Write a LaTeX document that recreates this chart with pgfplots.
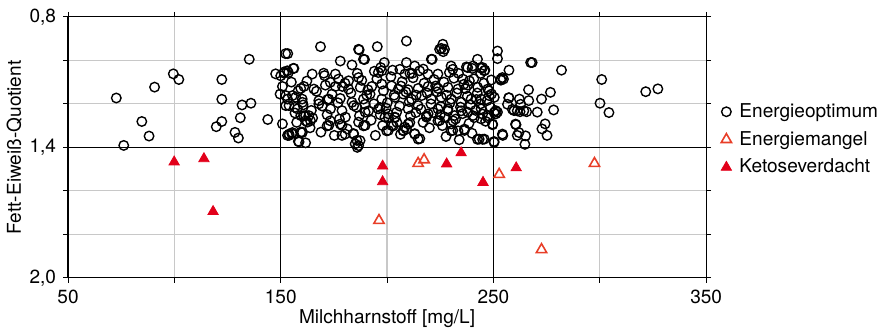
\documentclass[border=0pt]{standalone}
\usepackage{fontspec}
\setmainfont{TeX Gyre Heros}
\usepackage{pgfplots}
\pgfplotsset{compat=1.18}
\definecolor{ketred}{RGB}{226,0,26}
\definecolor{manred}{RGB}{232,62,40}
\definecolor{gridgray}{RGB}{200,200,200}
\begin{document}
\begin{tikzpicture}
\begin{axis}[
  scale only axis,
  width=321.5pt, height=131.5pt,
  xmin=50, xmax=350, ymin=0.8, ymax=2.0,
  y dir=reverse,
  xtick={50,100,150,200,250,300,350},
  xticklabels={50,,150,,250,,350},
  ytick={0.8,1.0,1.2,1.4,1.6,1.8,2.0},
  yticklabels={{0,8},,,{1,4},,,{2,0}},
  tick align=outside,
  major tick length=2.5pt,
  tick style={black, line width=0.5pt},
  grid=major,
  major grid style={gridgray, line width=0.6pt},
  axis line style={black, line width=0.6pt},
  font=\fontsize{9.6}{11}\selectfont,
  tick label style={font=\fontsize{9.6}{11}\selectfont},
  xlabel={Milchharnstoff [mg/L]},
  ylabel={Fett-Eiweiß-Quotient},
  xlabel style={yshift=4pt},
  ylabel style={yshift=-3pt},
  legend style={at={(1.023,0.53)}, anchor=west, draw=none, fill=none,
    inner sep=0pt, nodes={inner xsep=0pt},
    /tikz/every odd column/.append style={column sep=4pt},
    font=\fontsize{9.6}{11}\selectfont, row sep=1.5pt},
  legend cell align=left,
  clip=false,
]
\draw[black, line width=0.6pt] (axis cs:150,0.8) -- (axis cs:150,2.0);
\draw[black, line width=0.6pt] (axis cs:250,0.8) -- (axis cs:250,2.0);
\draw[black, line width=0.6pt] (axis cs:50,1.4) -- (axis cs:350,1.4);
\addplot[only marks, mark=o, mark size=2.4pt, black, line width=0.7pt] coordinates {
(72.7,1.173)(76.2,1.391)(84.7,1.281)(88.1,1.348)(90.7,1.123)(99.5,1.062)(102.1,1.088)(122.3,1.088)(122.3,1.179)(122.3,1.281)(119.7,1.305)(128.5,1.331)(130.1,1.357)(131.0,1.264)(131.8,1.205)(136.0,1.197)(135.2,0.995)(143.9,1.272)(150.8,1.292)
(152.3,0.969)(153.3,0.969)(147.6,1.062)(150.0,1.071)(151.6,1.053)(153.6,1.056)(155.9,1.037)(150.8,1.120)(149.7,1.155)(153.2,1.178)(155.5,1.162)(152.4,1.208)(156.7,1.216)(156.7,1.242)(153.2,1.345)(155.2,1.337)(158.3,1.372)(159.4,1.330)(159.4,1.254)(159.4,1.129)(160.2,1.193)
(251.9,0.957)(251.9,0.992)(268.2,1.010)(282.0,1.045)(257.3,1.045)(254.7,1.086)(253.5,1.091)(266.5,1.135)(276.8,1.147)(257.2,1.172)(262.2,1.178)(266.6,1.185)(272.6,1.178)(259.7,1.231)(262.5,1.236)(265.6,1.236)(270.6,1.238)(278.3,1.228)(251.1,1.231)(251.1,1.246)(260.6,1.296)(274.3,1.292)(272.8,1.315)(261.2,1.345)(275.2,1.345)(264.8,1.386)(254.4,1.345)(250.3,1.373)(242.5,1.363)(244.9,1.363)(249.6,1.296)
(300.9,1.088)(300.1,1.197)(304.3,1.240)(321.6,1.144)(327.3,1.131)
(168.7,0.937)(195.4,0.937)(209.1,0.911)(186.9,0.952)(225.5,0.945)(226.4,0.960)(178.0,1.003)(183.5,1.021)(189.4,0.996)(198.7,1.010)(209.1,1.010)(221.2,0.995)(242.5,0.995)(237.3,1.030)(240.0,1.037)(244.1,1.036)(246.0,1.045)(230.1,1.026)(230.9,1.041)(229.3,1.056)(213.0,1.026)(215.3,1.048)(210.7,1.059)(206.0,1.041)(208.4,1.063)(197.0,1.033)(195.9,1.056)(197.5,1.048)(164.8,1.063)(170.2,1.059)(175.7,1.063)(156.2,1.037)(153.1,1.048)(151.6,1.059)(219.2,1.063)(223.9,1.063)(235.6,1.086)(238.7,1.094)(186.6,1.079)(181.9,1.094)(177.2,1.086)(173.3,1.101)
(244.9,1.033)(245.7,1.048)(237.9,1.033)(240.3,1.026)(253.5,1.086)(254.2,1.079)(267.5,1.010)(227.0,0.949)(226.2,0.926)(188.9,0.995)(186.6,0.949)(224.7,0.949)(220.8,0.995)
(160.9,1.120)(165.6,1.132)(171.0,1.114)(175.7,1.120)(181.9,1.132)(187.4,1.124)(192.8,1.120)(197.5,1.109)(202.1,1.117)(205.3,1.132)(209.9,1.135)(214.6,1.129)(219.3,1.120)(223.9,1.129)(228.6,1.124)(233.3,1.132)(237.9,1.114)(242.6,1.124)(247.3,1.132)(249.1,1.155)
(152.4,1.162)(157.0,1.170)(160.1,1.178)(167.9,1.185)(172.6,1.178)(178.0,1.175)(183.5,1.193)(188.9,1.178)(192.0,1.155)(197.5,1.178)(203.7,1.170)(207.6,1.155)(211.5,1.178)(216.2,1.162)(220.8,1.178)(225.5,1.170)(230.2,1.178)(234.8,1.193)(239.5,1.178)(244.2,1.178)(248.0,1.162)(250.4,1.170)
(153.9,1.208)(157.8,1.223)(163.2,1.254)(167.9,1.200)(173.4,1.223)(178.8,1.231)(184.3,1.208)(189.7,1.238)(195.9,1.223)(200.6,1.246)(204.5,1.238)(209.9,1.223)(214.6,1.208)(219.3,1.246)(223.9,1.223)(228.6,1.223)(231.7,1.254)(237.9,1.238)(244.2,1.223)(247.3,1.254)(251.9,1.238)
(161.7,1.254)(162.5,1.284)(172.6,1.299)(178.8,1.299)(180.4,1.261)(184.3,1.337)(186.6,1.284)(189.7,1.299)(199.0,1.261)(202.1,1.299)(203.7,1.261)(208.4,1.307)(213.0,1.337)(215.4,1.360)(218.5,1.261)(224.7,1.277)(230.2,1.292)(230.9,1.322)(236.4,1.322)(240.3,1.254)(244.2,1.269)(153.9,1.345)(158.6,1.375)(161.7,1.379)(178.8,1.345)(185.8,1.368)(186.0,1.400)(200.6,1.322)(209.9,1.292)(160.1,1.330)(227.0,1.261)(207.6,1.322)
(153.9,1.339)(155.5,1.332)(160.1,1.332)(161.7,1.278)(164.0,1.278)(160.9,1.255)(173.3,1.278)(171.8,1.301)(178.0,1.293)(180.3,1.339)(184.2,1.339)(185.0,1.384)
(188.9,1.301)(187.3,1.369)(186.6,1.392)(199.8,1.324)(202.9,1.301)(207.6,1.324)(209.1,1.316)(210.7,1.286)(213.0,1.339)(214.6,1.362)(218.5,1.255)(223.9,1.278)(200.6,1.263)(203.7,1.263)(196.7,1.217)(191.3,1.232)(189.7,1.202)
(257.3,1.172)(258.9,1.225)(261.2,1.232)(264.3,1.232)(260.4,1.293)(262.0,1.332)(265.1,1.347)(254.2,1.339)(245.7,1.362)(243.3,1.362)(250.3,1.377)(250.3,1.240)(249.6,1.293)(256.6,1.202)(262.8,1.202)(228.6,1.232)(231.0,1.278)(233.3,1.324)(236.4,1.316)(230.1,1.324)(234.8,1.232)(241.0,1.263)(244.9,1.247)(247.2,1.263)
(162.3,1.095)(166.8,1.142)(169.5,1.210)(174.1,1.155)(176.9,1.195)(180.2,1.105)(183.0,1.150)(185.6,1.215)(188.1,1.092)(190.4,1.160)(193.8,1.200)(195.2,1.085)(198.3,1.140)(200.1,1.195)(201.8,1.075)(203.3,1.160)(205.9,1.210)(207.1,1.098)(208.8,1.145)(210.4,1.190)(212.2,1.080)(213.7,1.160)(215.9,1.225)(217.4,1.105)(218.8,1.150)(220.6,1.200)(222.1,1.088)(223.5,1.145)(225.2,1.212)(226.7,1.100)(228.0,1.160)(229.6,1.195)(231.4,1.082)(232.8,1.150)(234.5,1.215)(236.1,1.110)(237.7,1.165)(239.2,1.205)(240.8,1.085)(242.4,1.150)(243.9,1.200)(245.5,1.105)(247.0,1.185)(248.6,1.215)
(164.4,1.230)(171.8,1.250)(177.6,1.270)(187.0,1.255)(192.5,1.275)(196.8,1.250)(204.6,1.285)(211.0,1.255)(216.9,1.285)(221.7,1.240)(226.0,1.300)(232.2,1.270)(238.5,1.290)(241.6,1.230)(246.3,1.280)(155.0,1.100)(158.2,1.140)(157.5,1.285)(163.8,1.310)(168.9,1.330)(175.2,1.345)(181.3,1.315)(194.5,1.345)(197.9,1.300)(206.3,1.340)(219.9,1.310)(227.7,1.350)(233.9,1.365)(239.9,1.335)
(170.6,1.070)(186.0,1.060)(194.0,1.050)(202.6,1.045)(211.8,1.060)(217.0,1.040)(233.6,1.060)(244.0,1.060)(249.0,1.090)(179.0,1.120)(191.0,1.135)(206.5,1.118)(222.8,1.118)(236.9,1.130)(248.0,1.140)(160.5,1.205)(165.0,1.265)(172.0,1.180)(199.5,1.220)(213.5,1.240)(225.0,1.250)(235.5,1.245)(242.0,1.180)
};
\addlegendentry{Energieoptimum}
\addplot[only marks, mark=triangle, mark size=3pt, manred, line width=0.8pt] coordinates {
(214.6,1.474)(217.4,1.457)(252.7,1.524)(297.5,1.474)(196.2,1.736)(272.6,1.870)
};
\addlegendentry{Energiemangel}
\addplot[only marks, mark=triangle*, mark size=3pt, ketred, fill=ketred] coordinates {
(99.9,1.467)(113.9,1.452)(118.2,1.695)(197.9,1.486)(197.9,1.558)(228.0,1.476)(234.8,1.425)(245.1,1.561)(260.7,1.494)
};
\addlegendentry{Ketoseverdacht}
\end{axis}
\path ([yshift=8.5pt]current axis.north);
\end{tikzpicture}
\end{document}
